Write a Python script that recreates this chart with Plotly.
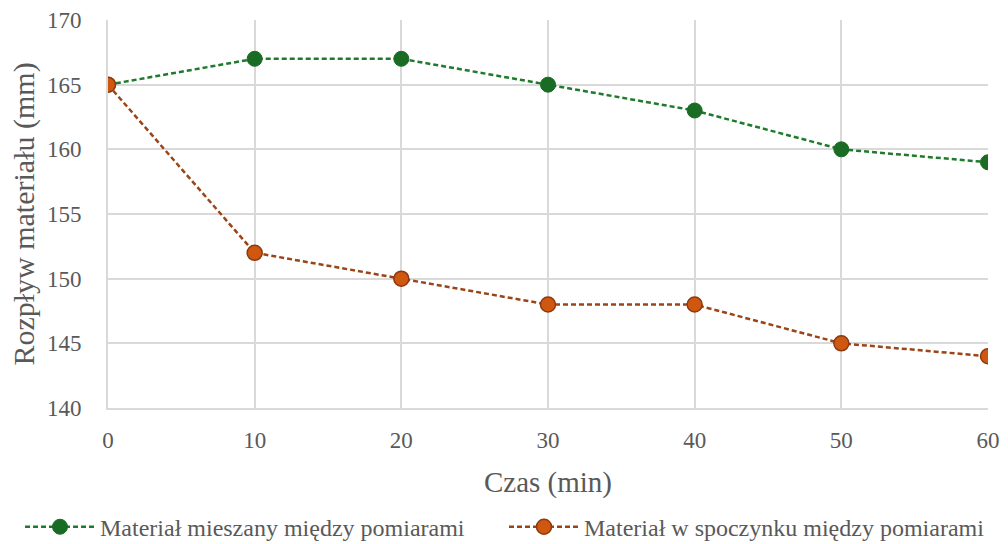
import plotly.graph_objects as go

czas = [0, 10, 20, 30, 40, 50, 60]
mieszany = [165, 167, 167, 165, 163, 160, 159]
spoczynek = [165, 152, 150, 148, 148, 145, 144]
x_ticks = [0, 10, 20, 30, 40, 50, 60]
y_ticks = [140, 145, 150, 155, 160, 165, 170]

FONT = "Liberation Serif"
TXT = "#595959"

fig = go.Figure()
fig.add_trace(go.Scatter(
    x=czas, y=mieszany, mode="lines+markers",
    name="Materiał mieszany między pomiarami", legend="legend",
    line=dict(color="#1f7a2c", width=2.5, dash="5px,3px"),
    marker=dict(color="#1a6b24", size=15, line=dict(color="#1a6b24", width=1)),
))
fig.add_trace(go.Scatter(
    x=czas, y=spoczynek, mode="lines+markers",
    name="Materiał w spoczynku między pomiarami", legend="legend2",
    line=dict(color="#9a4418", width=2.5, dash="5px,3px"),
    marker=dict(color="#d0570f", size=15, line=dict(color="#8a3a12", width=1.5)),
))

leg_common = dict(orientation="h", xref="container", yref="container",
                  xanchor="left", y=0.031, yanchor="middle",
                  font=dict(family=FONT, size=24, color=TXT), itemwidth=70,
                  bgcolor="rgba(0,0,0,0)")

fig.update_layout(
    width=1008, height=544,
    margin=dict(l=108, r=20, t=20, b=136, autoexpand=False),
    plot_bgcolor="white", paper_bgcolor="white",
    font=dict(family=FONT, color=TXT, size=22),
    legend=dict(x=20 / 1008, **leg_common),
    legend2=dict(x=504 / 1008, **leg_common),
    showlegend=True,
)
fig.update_xaxes(
    range=[0, 60], tickvals=x_ticks, ticktext=[str(v) for v in x_ticks],
    showgrid=True, gridcolor="#d9d9d9", gridwidth=2,
    showline=True, linecolor="#d9d9d9", linewidth=2,
    zeroline=False, ticks="", ticklabelstandoff=10, automargin=False,
    tickfont=dict(family=FONT, size=23, color=TXT),
    title=dict(text="Czas (min)", font=dict(family=FONT, size=29, color=TXT), standoff=20),
)
fig.update_yaxes(
    range=[140, 170], tickvals=y_ticks, ticktext=[str(v) for v in y_ticks],
    showgrid=True, gridcolor="#d9d9d9", gridwidth=2,
    showline=True, linecolor="#d9d9d9", linewidth=2,
    zeroline=False, ticks="", ticklabelstandoff=20, automargin=False,
    tickfont=dict(family=FONT, size=23, color=TXT),
    title=dict(text="Rozpływ materiału (mm)", font=dict(family=FONT, size=30, color=TXT), standoff=3),
)

fig.write_html("out.html")
